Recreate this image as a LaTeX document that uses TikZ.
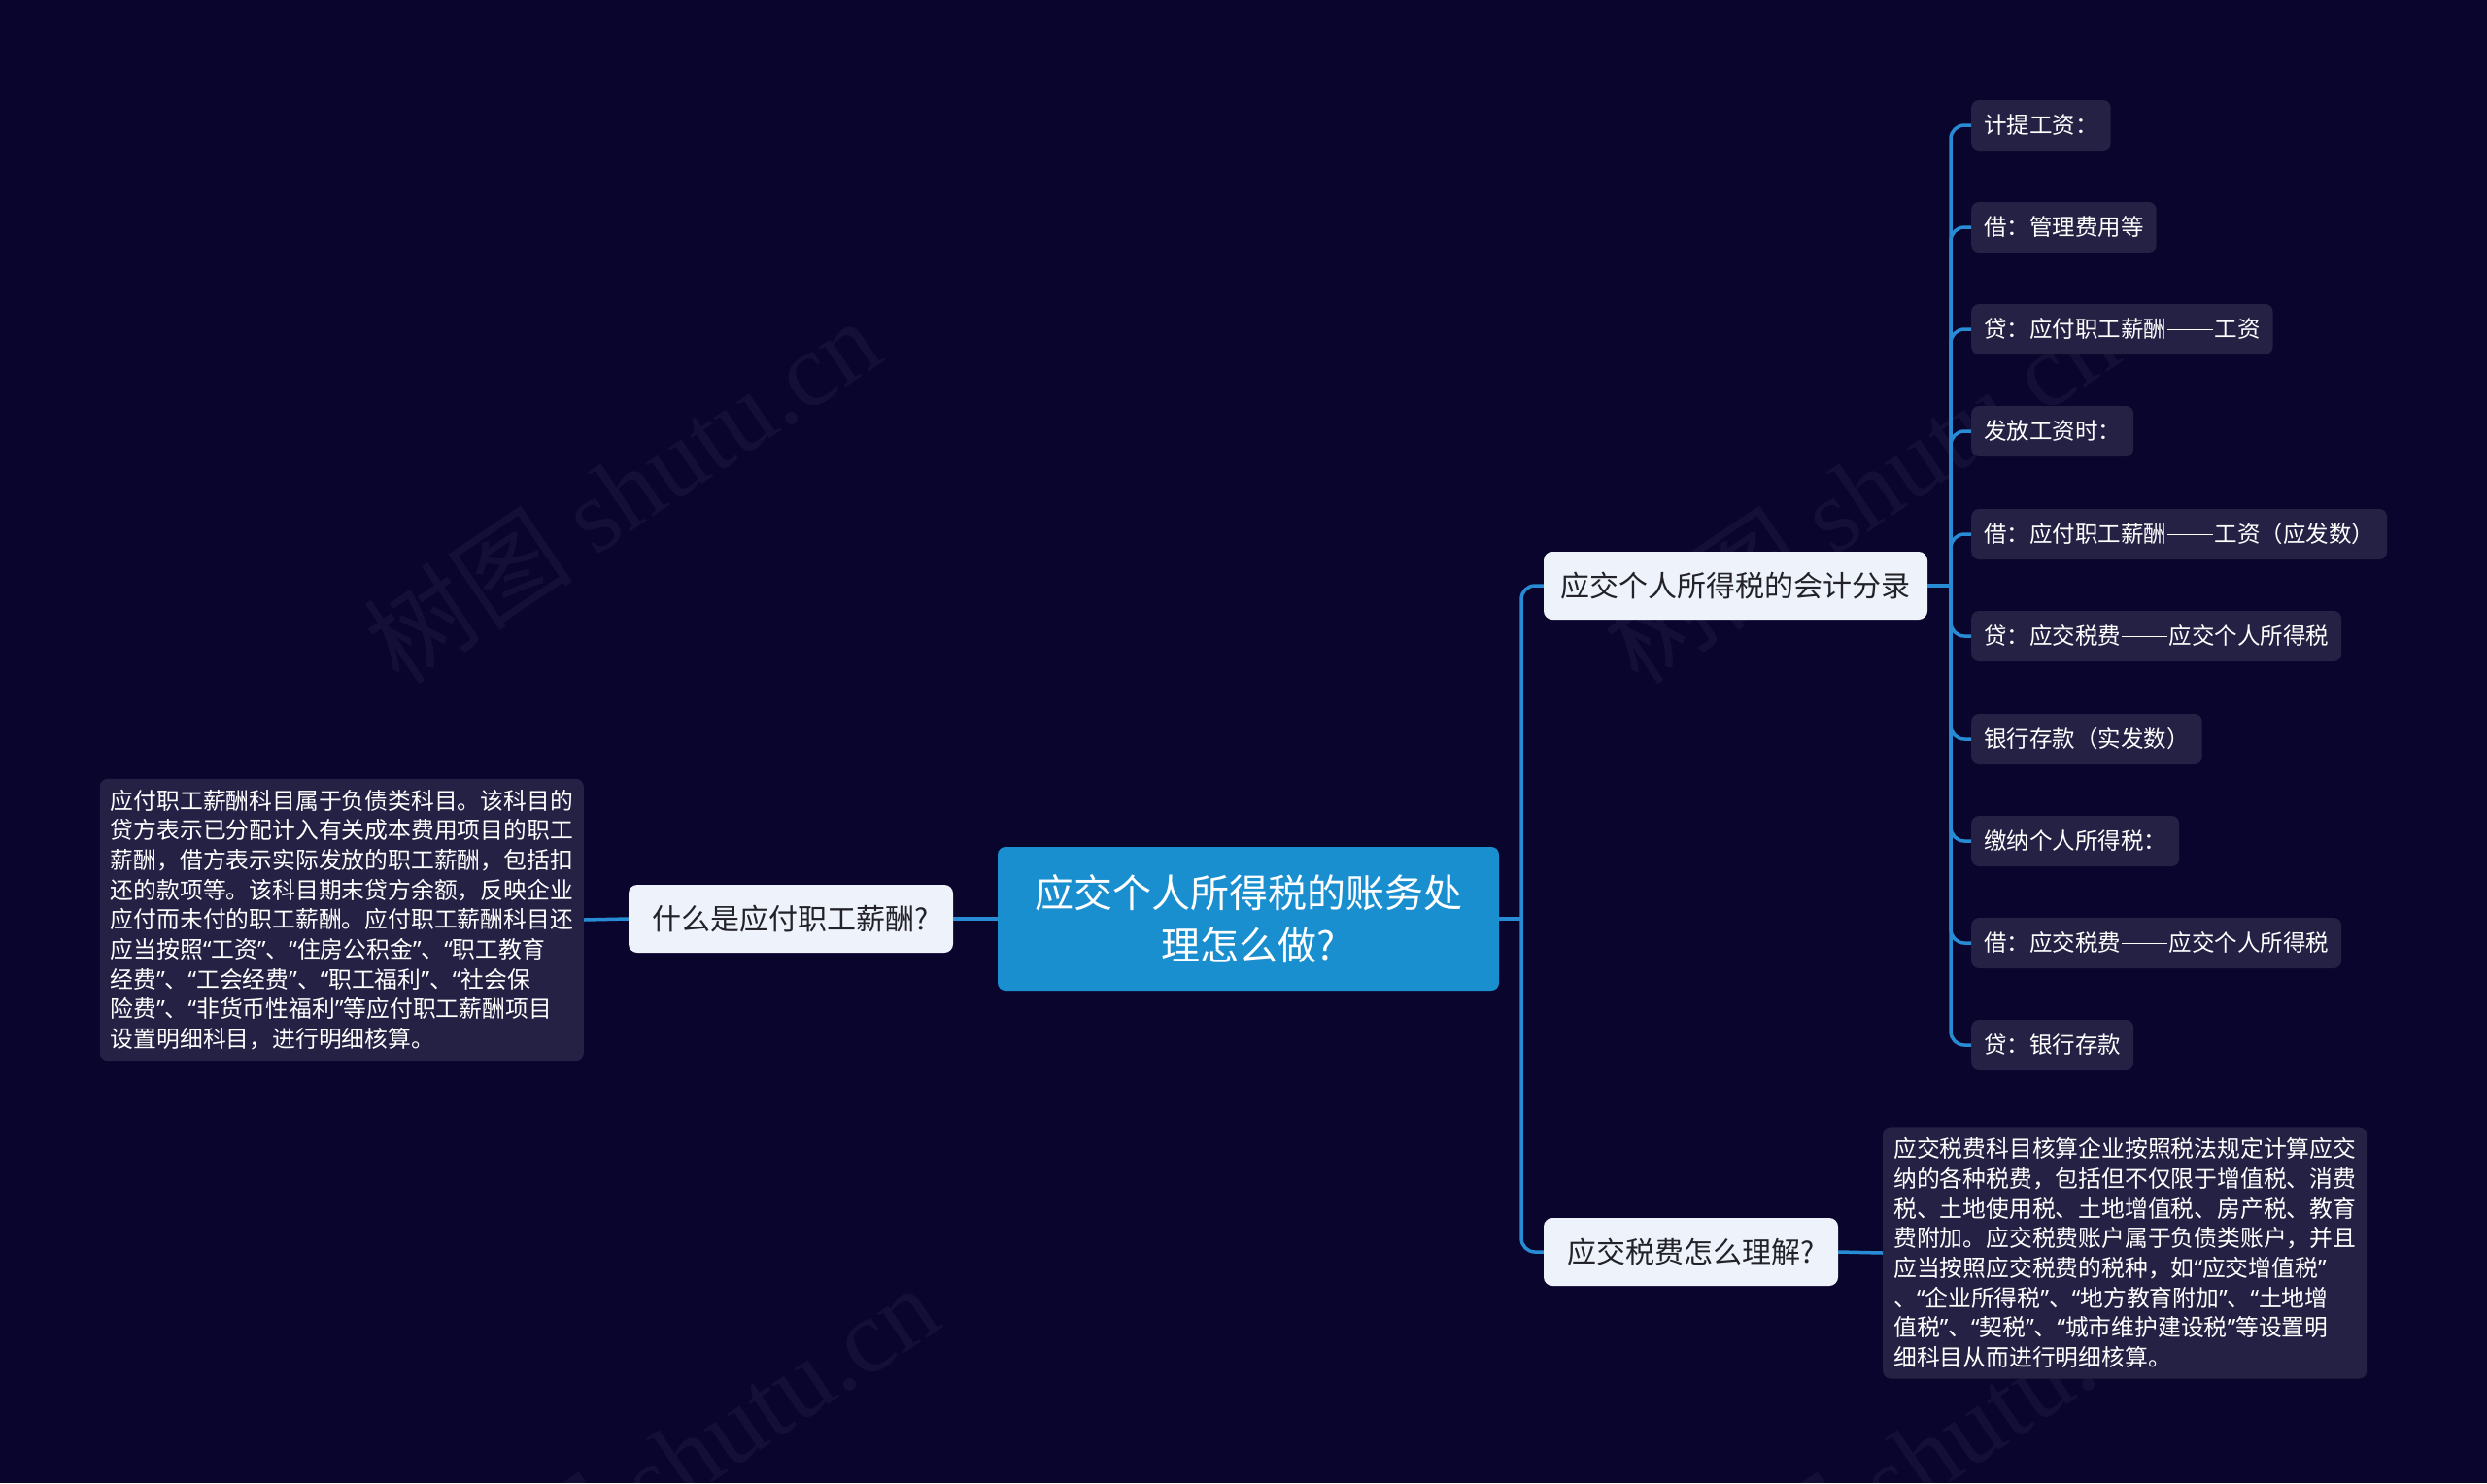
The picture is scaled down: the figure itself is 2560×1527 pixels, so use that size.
\documentclass[tikz,border=0pt]{standalone}
\usepackage{fontspec}
\setmainfont{Noto Sans CJK SC}
\newfontfamily\wmserif{Liberation Serif}
\newfontfamily\qfont{Noto Sans}
\newcommand\oqt{{\qfont “}}
\newcommand\cqt{{\qfont ”}}
\newcommand\ddash{\kern0.05em\rule[0.34em]{2.0em}{0.06em}\kern0.05em}
\definecolor{bgc}{RGB}{10,5,45}
\definecolor{boxc}{RGB}{37,33,68}
\definecolor{mainc}{RGB}{26,143,208}
\definecolor{lightc}{RGB}{238,243,251}
\definecolor{linec}{RGB}{40,140,212}
\definecolor{darktext}{RGB}{34,34,40}
\begin{document}
\begin{tikzpicture}[x=1pt,y=-1pt,
  conn/.style={draw=linec,line width=3.5pt,rounded corners=14pt},
  rootbox/.style={fill=mainc,rounded corners=8pt,text=white,align=center,
    minimum width=516pt,minimum height=148pt,
    font=\fontsize{40}{54}\selectfont},
  subbox/.style={fill=lightc,rounded corners=9pt,text=darktext,
    minimum height=70pt,inner xsep=15pt,font=\fontsize{30}{36}\selectfont},
  leafbox/.style={fill=boxc,rounded corners=8pt,text=white,anchor=west,
    minimum height=52pt,inner xsep=13pt,font=\fontsize{23.5}{28}\selectfont},
  notebox/.style={fill=boxc,rounded corners=8pt,text=white,align=left,
    text width=476pt,inner xsep=11pt,inner ysep=11pt,font=\fontsize{23.8}{30.7}\selectfont},
  wm/.style={text=white,opacity=0.045,rotate=34,font=\fontsize{108}{118}\selectfont}
]
\fill[bgc] (0,0) rectangle (2560,1527);
\useasboundingbox (0,0) rectangle (2560,1527);

% watermarks
\begin{scope}
\clip (0,0) rectangle (2560,1527);
\node[wm] (wm1) at (640,505) {树图 {\wmserif shutu.cn}};
\node[wm] (wm2) at (1915,505) {树图 {\wmserif shutu.cn}};
\node[wm] (wm3) at (700,1500) {树图 {\wmserif shutu.cn}};
\node[wm] (wm4) at (1975,1500) {树图 {\wmserif shutu.cn}};
\end{scope}

% nodes
\node[rootbox] (root) at (1285,946) {应交个人所得税的账务处\\理怎么做?};
\node[subbox,minimum width=334pt] (q1) at (814,946) {什么是应付职工薪酬?};
\node[subbox,minimum width=395pt] (acct) at (1786.5,603) {应交个人所得税的会计分录};
\node[subbox,minimum width=303pt] (tax) at (1740.5,1289) {应交税费怎么理解?};

\node[notebox,anchor=east] (n1) at (601,947) {应付职工薪酬科目属于负债类科目。该科目的\\
贷方表示已分配计入有关成本费用项目的职工\\
薪酬，借方表示实际发放的职工薪酬，包括扣\\
还的款项等。该科目期末贷方余额，反映企业\\
应付而未付的职工薪酬。应付职工薪酬科目还\\
应当按照\oqt 工资\cqt 、\oqt 住房公积金\cqt 、\oqt 职工教育\\
经费\cqt 、\oqt 工会经费\cqt 、\oqt 职工福利\cqt 、\oqt 社会保\\
险费\cqt 、\oqt 非货币性福利\cqt 等应付职工薪酬项目\\
设置明细科目，进行明细核算。};

\node[notebox,anchor=west] (n2) at (1938,1290) {应交税费科目核算企业按照税法规定计算应交\\
纳的各种税费，包括但不仅限于增值税、消费\\
税、土地使用税、土地增值税、房产税、教育\\
费附加。应交税费账户属于负债类账户，并且\\
应当按照应交税费的税种，如\oqt 应交增值税\cqt\\
、\oqt 企业所得税\cqt 、\oqt 地方教育附加\cqt 、\oqt 土地增\\
值税\cqt 、\oqt 契税\cqt 、\oqt 城市维护建设税\cqt 等设置明\\
细科目从而进行明细核算。};

\node[leafbox] (l1) at (2029,129) {计提工资：};
\node[leafbox] (l2) at (2029,234) {借：管理费用等};
\node[leafbox] (l3) at (2029,339) {贷：应付职工薪酬\ddash 工资};
\node[leafbox] (l4) at (2029,444) {发放工资时：};
\node[leafbox] (l5) at (2029,550) {借：应付职工薪酬\ddash 工资（应发数）};
\node[leafbox] (l6) at (2029,655) {贷：应交税费\ddash 应交个人所得税};
\node[leafbox] (l7) at (2029,761) {银行存款（实发数）};
\node[leafbox] (l8) at (2029,866) {缴纳个人所得税：};
\node[leafbox] (l9) at (2029,971) {借：应交税费\ddash 应交个人所得税};
\node[leafbox] (l10) at (2029,1076) {贷：银行存款};

% connectors
\coordinate (cj) at (1566,946);
\coordinate (sj) at (2008,603);
\draw[conn] (root.east) -- (cj);
\draw[conn] (cj) |- (acct.west);
\draw[conn] (cj) |- (tax.west);
\draw[conn] (root.west) -- (q1.east);
\draw[conn] (q1.west) -- (n1.east);
\draw[conn] (tax.east) -- (n2.west);
\draw[conn] (acct.east) -- (sj);
\foreach \i in {1,...,10} {\draw[conn] (sj) |- (l\i.west);}
\end{tikzpicture}
\end{document}
